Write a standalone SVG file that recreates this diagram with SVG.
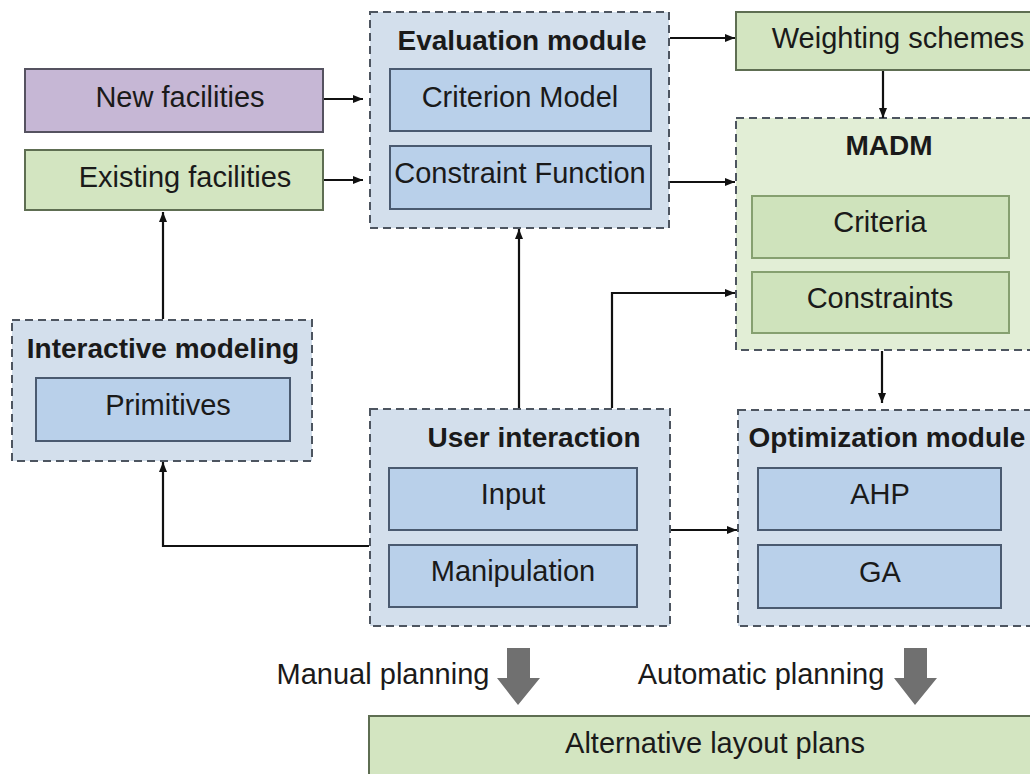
<svg xmlns="http://www.w3.org/2000/svg" width="1030" height="774" viewBox="0 0 1030 774">
<defs>
<marker id="ah" markerWidth="10" markerHeight="8" refX="10" refY="4" orient="auto" markerUnits="userSpaceOnUse">
<path d="M0,0 L10,4 L0,8 Z" fill="#111"/>
</marker>
<style>
.t{font-family:"Liberation Sans",Arial,sans-serif;font-size:29px;fill:#1a1a1a;text-anchor:middle;dominant-baseline:central}
.b{font-family:"Liberation Sans",Arial,sans-serif;font-size:28px;font-weight:bold;fill:#1a1a1a;text-anchor:middle;dominant-baseline:central}
.grp{fill:#d3dfec;stroke:#4d5560;stroke-width:2;stroke-dasharray:8,5}
.grpg{fill:#e2eed6;stroke:#4d5560;stroke-width:2;stroke-dasharray:8,5}
.blue{fill:#b9d0ea;stroke:#4a5a70;stroke-width:2}
.green{fill:#d3e5c1;stroke:#5e6e52;stroke-width:2}
.ginner{fill:#cfe3bc;stroke:#86a070;stroke-width:2}
.purple{fill:#c6b7d5;stroke:#555260;stroke-width:2}
.con{fill:none;stroke:#111;stroke-width:2.2}
.blk{fill:#707070}
</style>
</defs>
<rect width="1030" height="774" fill="#ffffff"/>

<g id="new-facilities">
<rect class="purple" x="25" y="69" width="298" height="63"/>
<text class="t" x="180" y="97">New facilities</text>
</g>
<g id="existing-facilities">
<rect class="green" x="25" y="150" width="298" height="60"/>
<text class="t" x="185" y="177">Existing facilities</text>
</g>

<g id="evaluation-module">
<rect class="grp" x="370" y="12" width="299" height="216"/>
<text class="b" x="522" y="40">Evaluation module</text>
<rect class="blue" x="390" y="69" width="261" height="62"/>
<text class="t" x="520" y="97">Criterion Model</text>
<rect class="blue" x="390" y="146" width="261" height="63"/>
<text class="t" x="520" y="173">Constraint Function</text>
</g>

<g id="weighting-schemes">
<rect class="green" x="736" y="12" width="300" height="58"/>
<text class="t" x="898" y="38">Weighting schemes</text>
</g>

<g id="madm">
<rect class="grpg" x="736" y="118" width="300" height="232"/>
<text class="b" x="889" y="145">MADM</text>
<rect class="ginner" x="752" y="196" width="257" height="62"/>
<text class="t" x="880" y="222">Criteria</text>
<rect class="ginner" x="752" y="272" width="257" height="61"/>
<text class="t" x="880" y="298">Constraints</text>
</g>

<g id="interactive-modeling">
<rect class="grp" x="12" y="320" width="300" height="141"/>
<text class="b" x="163" y="348">Interactive modeling</text>
<rect class="blue" x="36" y="378" width="254" height="63"/>
<text class="t" x="168" y="405">Primitives</text>
</g>

<g id="user-interaction">
<rect class="grp" x="370" y="409" width="300" height="217"/>
<text class="b" x="534" y="437">User interaction</text>
<rect class="blue" x="389" y="468" width="248" height="62"/>
<text class="t" x="513" y="494">Input</text>
<rect class="blue" x="389" y="545" width="248" height="62"/>
<text class="t" x="513" y="571">Manipulation</text>
</g>

<g id="optimization-module">
<rect class="grp" x="738" y="410" width="300" height="216"/>
<text class="b" x="887" y="437">Optimization module</text>
<rect class="blue" x="758" y="468" width="243" height="62"/>
<text class="t" x="880" y="494">AHP</text>
<rect class="blue" x="758" y="545" width="243" height="63"/>
<text class="t" x="880" y="572">GA</text>
</g>

<g id="alternative-layout-plans">
<rect class="green" x="369" y="716" width="670" height="70"/>
<text class="t" x="715" y="743">Alternative layout plans</text>
</g>

<g id="planning-labels">
<text class="t" x="383" y="674">Manual planning</text>
<polygon class="blk" points="507,648 530,648 530,678 540,678 518,705 497,678 507,678"/>
<text class="t" x="761" y="674">Automatic planning</text>
<polygon class="blk" points="904,648 927,648 927,678 937,678 915,705 894,678 904,678"/>
</g>

<g id="connectors">
<line class="con" x1="324" y1="99" x2="363" y2="99" marker-end="url(#ah)"/>
<line class="con" x1="324" y1="180" x2="363" y2="180" marker-end="url(#ah)"/>
<line class="con" x1="670" y1="38" x2="735" y2="38" marker-end="url(#ah)"/>
<line class="con" x1="883" y1="71" x2="883" y2="118" marker-end="url(#ah)"/>
<line class="con" x1="670" y1="182" x2="735" y2="182" marker-end="url(#ah)"/>
<polyline class="con" points="612,408 612,293 735,293" marker-end="url(#ah)"/>
<line class="con" x1="519" y1="408" x2="519" y2="229" marker-end="url(#ah)"/>
<line class="con" x1="163" y1="319" x2="163" y2="212" marker-end="url(#ah)"/>
<line class="con" x1="882" y1="351" x2="882" y2="403" marker-end="url(#ah)"/>
<line class="con" x1="671" y1="530" x2="737" y2="530" marker-end="url(#ah)"/>
<polyline class="con" points="369,546 163,546 163,462" marker-end="url(#ah)"/>
</g>
</svg>
